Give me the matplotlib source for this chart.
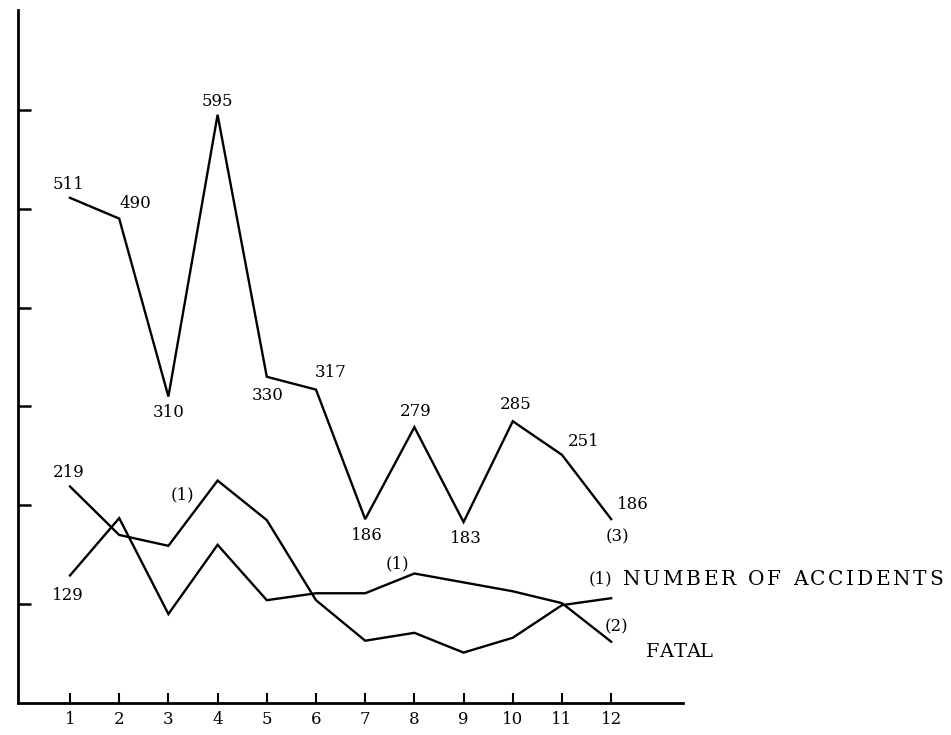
import matplotlib
matplotlib.use("Agg")
import matplotlib.pyplot as plt
from matplotlib.font_manager import FontProperties

# ---------------- data ----------------
months = [1, 2, 3, 4, 5, 6, 7, 8, 9, 10, 11, 12]
series3 = [511, 490, 310, 595, 330, 317, 186, 279, 183, 285, 251, 186]
accidents = [219, 170, 159, 225, 185, 104, 63, 71, 51, 66, 99, 106]
fatal = [129, 187, 90, 160, 104, 111, 111, 131, 122, 113, 101, 62]
y_ticks = [100, 200, 300, 400, 500, 600]

# label offsets for series (3) value labels, in pixels (dx, dy up)
s3_offsets = [(-2, 13), (16, 15), (0, -16), (0, 13), (1, -19), (15, 17),
              (2, -16), (1, 16), (2, -16), (3, 17), (22, 13), (22, 15)]

FONT = "DejaVu Serif"
FS = 12
PT = 72.0 / 100.0  # points per pixel at dpi 100

fig = plt.figure(figsize=(9.51, 7.35), dpi=100)
ax = fig.add_axes([18 / 951, 32 / 735, (683 - 18) / 951, (703 - 10) / 735])
ax.set_xlim(-0.057, 13.46)
ax.set_ylim(0, 701)

for s in ["top", "right"]:
    ax.spines[s].set_visible(False)
for s in ["left", "bottom"]:
    ax.spines[s].set_linewidth(2.0)

ax.set_xticks(months)
ax.set_xticklabels([str(m) for m in months], fontfamily=FONT, fontsize=FS)
ax.tick_params(axis="x", direction="in", length=7, width=1.5, pad=6)
ax.set_yticks(y_ticks)
ax.set_yticklabels([])
ax.tick_params(axis="y", direction="in", length=9, width=1.8)

lw = 1.7
ax.plot(months, series3, color="black", lw=lw, solid_joinstyle="miter")
ax.plot(months, accidents, color="black", lw=lw, solid_joinstyle="miter")
ax.plot(months, fatal, color="black", lw=lw, solid_joinstyle="miter")


def lab(x, y, s, dx, dy, ha="center", size=FS):
    ax.annotate(s, xy=(x, y), xytext=(dx * PT, dy * PT), textcoords="offset points",
                ha=ha, va="center", fontfamily=FONT, fontsize=size)


for m, v, (dx, dy) in zip(months, series3, s3_offsets):
    lab(m, v, str(v), dx, dy)
lab(months[-1], series3[-1], "(3)", 6, -18)

lab(months[0], accidents[0], str(accidents[0]), -1, 14)
lab(months[0], fatal[0], str(fatal[0]), -2, -20)
lab(months[3], accidents[3], "(1)", -35, -14)
lab(months[7], fatal[7], "(1)", -17, 10)

fig.canvas.draw()
renderer = fig.canvas.get_renderer()


def tracked(x, y, s, dx_start, dy, target_w, size):
    fp = FontProperties(family=FONT, size=size)
    widths = [renderer.get_text_width_height_descent(c, fp, ismath=False)[0] for c in s]
    natural = sum(widths)
    track = (target_w - natural) / max(len(s) - 1, 1)
    cur = dx_start
    for c, w in zip(s, widths):
        if c != " ":
            ax.annotate(c, xy=(x, y), xytext=(cur * PT, dy * PT), textcoords="offset points",
                        ha="left", va="center", fontfamily=FONT, fontsize=size)
        cur += w + track


# legend-like end labels
lab(months[-1], accidents[-1], "(1)", -23, 19, ha="left")
tracked(months[-1], accidents[-1], "NUMBER OF ACCIDENTS", 12, 19, 320, 14.5)
lab(months[-1], fatal[-1], "(2)", -7, 15, ha="left")
tracked(months[-1], fatal[-1], "FATAL", 35, -10, 67, 14)

fig.savefig("out.png", dpi=100)
